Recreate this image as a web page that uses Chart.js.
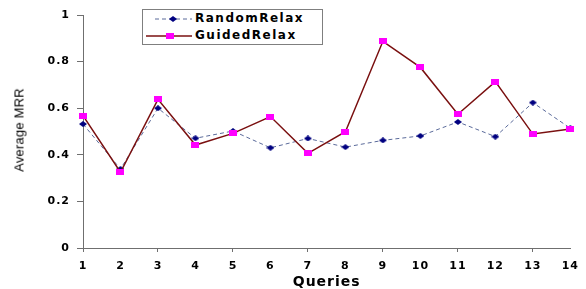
<!DOCTYPE html>
<html>
<head>
<meta charset="utf-8">
<script src="https://cdn.jsdelivr.net/npm/chart.js@4/dist/chart.umd.min.js"></script>
<style>
  body { margin: 0; background: #fff; }
  #wrap { position: relative; width: 586px; height: 289px; }
  #legend {
    position: absolute; left: 142px; top: 9px; width: 179px; height: 34px;
    border: 1px solid #7f7f7f; background: #fff;
  }
  #legend svg { position: absolute; left: 0; top: 0; }
  .lg-text {
    position: absolute; left: 52px; height: 16px; line-height: 16px;
    font: bold 12px "DejaVu Sans", sans-serif; letter-spacing: 1.5px; color: #000;
    white-space: nowrap;
  }
  #ytitle {
    position: absolute; left: 19px; top: 130px;
    transform: translate(-50%, -50%) rotate(-90deg);
    font: 13px "Liberation Sans", Arial, sans-serif; letter-spacing: 0.2px;
    white-space: nowrap; color: #000;
  }
</style>
</head>
<body>
<div id="wrap">
  <canvas id="mrrChart" width="586" height="289"></canvas>
  <div id="ytitle">Average MRR</div>
  <div id="legend">
    <svg width="60" height="34">
      <line x1="12" y1="9" x2="49" y2="9" stroke="#5a6a9a" stroke-width="1" stroke-dasharray="4,3"/>
      <polygon points="30,6 34,9 30,12 26,9" fill="#000080"/>
      <line x1="3" y1="26" x2="49" y2="26" stroke="#7a1010" stroke-width="1.5"/>
      <rect x="23" y="23" width="8" height="6" fill="#ff00ff"/>
    </svg>
    <div class="lg-text" id="lg1" style="top:1px"></div>
    <div class="lg-text" id="lg2" style="top:18px"></div>
  </div>
</div>
<script>
const queries = ["1", "2", "3", "4", "5", "6", "7", "8", "9", "10", "11", "12", "13", "14"];
const seriesNames = ["RandomRelax", "GuidedRelax"];
const randomRelax = [0.532, 0.339, 0.600, 0.471, 0.502, 0.430, 0.470, 0.433, 0.462, 0.481, 0.541, 0.478, 0.624, 0.514];
const guidedRelax = [0.568, 0.325, 0.638, 0.442, 0.492, 0.564, 0.406, 0.499, 0.887, 0.775, 0.574, 0.714, 0.489, 0.511];
const yTicks = [0, 0.2, 0.4, 0.6, 0.8, 1];

document.getElementById("lg1").textContent = seriesNames[0];
document.getElementById("lg2").textContent = seriesNames[1];

// marker images (slightly wider than tall, like the original)
function squareMarker(w, h, color) {
  const c = document.createElement("canvas");
  c.width = w; c.height = h;
  const g = c.getContext("2d");
  g.fillStyle = color;
  g.fillRect(0, 0, w, h);
  return c;
}
function diamondMarker(w, h, color) {
  const c = document.createElement("canvas");
  c.width = w; c.height = h;
  const g = c.getContext("2d");
  g.fillStyle = color;
  g.beginPath();
  g.moveTo(w / 2, 0);
  g.lineTo(w, h / 2);
  g.lineTo(w / 2, h);
  g.lineTo(0, h / 2);
  g.closePath();
  g.fill();
  return c;
}

const spacingPlugin = {
  id: "spacing",
  beforeDraw(chart) {
    chart.ctx.letterSpacing = "1px";
  },
};

const tickFont = { family: "DejaVu Sans", size: 11, weight: "bold" };

const mrrChart = new Chart(document.getElementById("mrrChart"), {
  type: "line",
  data: {
    labels: queries,
    datasets: [
      {
        label: seriesNames[1],
        data: guidedRelax,
        borderColor: "#7a1010",
        borderWidth: 1.5,
        pointStyle: squareMarker(8, 6, "#ff00ff"),
        pointRadius: 4,
        tension: 0,
        order: 0,
      },
      {
        label: seriesNames[0],
        data: randomRelax,
        borderColor: "#5a6a9a",
        borderWidth: 1,
        borderDash: [4, 3],
        pointStyle: diamondMarker(8, 6, "#000080"),
        pointRadius: 4,
        tension: 0,
        order: 1,
      },
    ],
  },
  options: {
    responsive: false,
    animation: false,
    events: [],
    layout: { padding: { top: 15, right: 10, left: 0, bottom: 0 } },
    plugins: { legend: { display: false }, tooltip: { enabled: false } },
    scales: {
      x: {
        type: "category",
        offset: false,
        grid: {
          drawOnChartArea: false,
          tickLength: 4,
          tickColor: (ctx) => (ctx.index % 2 === 0 ? "#6f6f6f" : "rgba(0,0,0,0)"),
        },
        border: { color: "#6f6f6f", width: 1 },
        ticks: { color: "#000", font: tickFont, padding: 8, maxRotation: 0, autoSkip: false },
        title: {
          display: true,
          text: "Queries",
          color: "#000",
          font: { family: "DejaVu Sans", size: 14, weight: "bold", lineHeight: 1 },
          padding: { top: 0, bottom: 0 },
        },
        afterFit: (scale) => { scale.height = 41; },
      },
      y: {
        min: 0,
        max: 1,
        afterBuildTicks: (scale) => { scale.ticks = yTicks.map((v) => ({ value: v })); },
        grid: { drawOnChartArea: false, tickLength: 6, tickColor: "#6f6f6f" },
        border: { color: "#6f6f6f", width: 1 },
        ticks: { color: "#000", font: tickFont, padding: 7, callback: (v) => String(v) },
        afterFit: (scale) => { scale.width = 83; },
      },
    },
  },
  plugins: [spacingPlugin],
});
</script>
</body>
</html>
